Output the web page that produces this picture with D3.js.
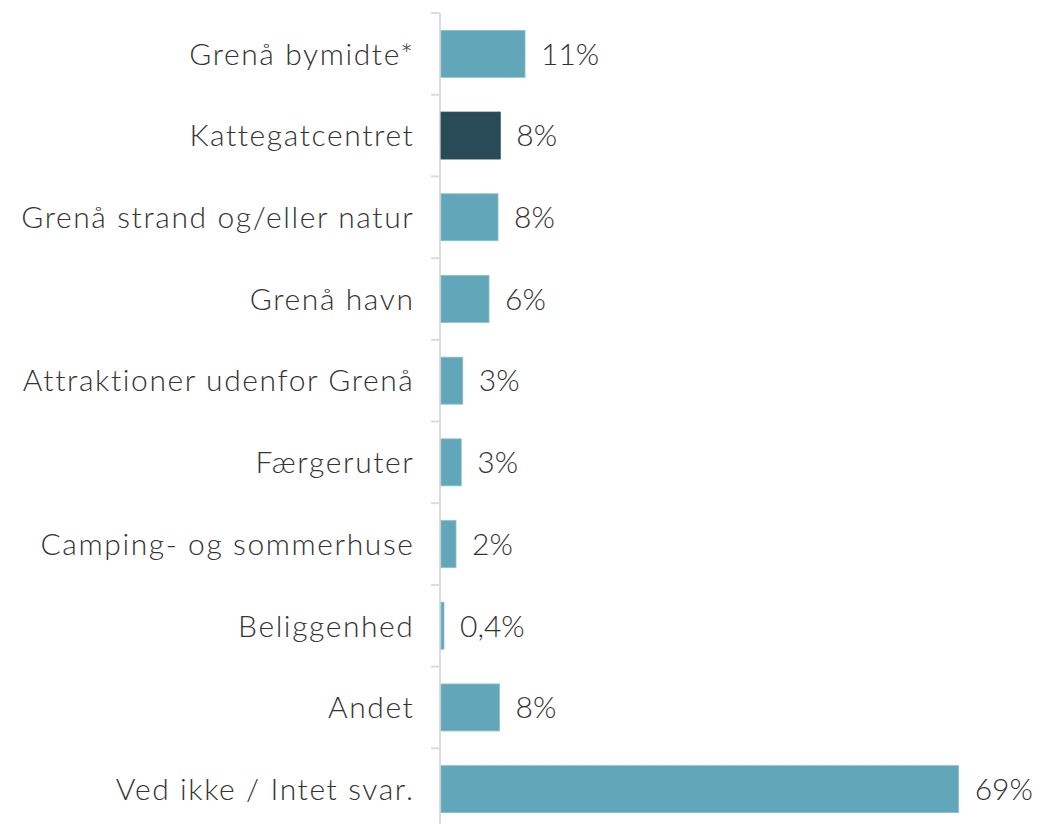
<!DOCTYPE html>
<html>
<head>
<meta charset="utf-8">
<script src="https://cdn.jsdelivr.net/npm/d3@7"></script>
<style>
  body { margin: 0; background: #fff; }
  text { font-family: Lato, 'Open Sans', sans-serif; font-weight: 300; fill: #333; }
</style>
</head>
<body>
<svg width="1040" height="824"></svg>
<script>
const categories = [
  'Grenå bymidte*',
  'Kattegatcentret',
  'Grenå strand og/eller natur',
  'Grenå havn',
  'Attraktioner udenfor Grenå',
  'Færgeruter',
  'Camping- og sommerhuse',
  'Beliggenhed',
  'Andet',
  'Ved ikke / Intet svar.'
];
const values = [11.2, 7.9, 7.6, 6.4, 2.9, 2.7, 2.0, 0.4, 7.8, 69];
const valueLabels = ['11%', '8%', '8%', '6%', '3%', '3%', '2%', '0,4%', '8%', '69%'];
const highlight = 'Kattegatcentret';

const svg = d3.select('svg'),
  marginLeft = 441,
  marginTop = 13;

const y = d3.scaleBand()
  .domain(categories)
  .range([marginTop, marginTop + 817])
  .paddingInner(0.425)
  .paddingOuter(0.2125);
const x = d3.scaleLinear().domain([0, 69]).range([marginLeft, marginLeft + 517.7]);

const data = categories.map((c, i) => ({ cat: c, value: values[i], label: valueLabels[i] }));

// axis line and ticks between bands
const g = svg.append('g');
g.append('line')
  .attr('x1', 440).attr('x2', 440)
  .attr('y1', marginTop).attr('y2', 830)
  .attr('stroke', '#dcdcdc').attr('stroke-width', 2);

const bounds = categories.map((c) => y(c) - (y.step() * y.paddingInner()) / 2);
g.selectAll('.tick')
  .data(bounds)
  .enter()
  .append('line')
  .attr('class', 'tick')
  .attr('x1', 431).attr('x2', 440)
  .attr('y1', (d) => d).attr('y2', (d) => d)
  .attr('stroke', '#dcdcdc').attr('stroke-width', 2);

g.selectAll('.bar')
  .data(data)
  .enter()
  .append('rect')
  .attr('class', 'bar')
  .attr('x', x(0))
  .attr('y', (d) => y(d.cat))
  .attr('width', (d) => Math.max(x(d.value) - x(0), 2.5))
  .attr('height', y.bandwidth())
  .attr('fill', (d) => (d.cat === highlight ? '#284b57' : '#62a6b9'))
  .attr('stroke', (d) => (d.cat === highlight ? '#284b57' : '#8cc0cd'))
  .attr('stroke-width', 0.8);

g.selectAll('.cat')
  .data(data)
  .enter()
  .append('text')
  .attr('class', 'cat')
  .attr('x', 414.5)
  .attr('y', (d) => y(d.cat) + y.bandwidth() / 2)
  .attr('dy', '0.36em')
  .attr('text-anchor', 'end')
  .attr('font-size', '30px')
  .attr('letter-spacing', '1.6px')
  .text((d) => d.cat);

g.selectAll('.val')
  .data(data)
  .enter()
  .append('text')
  .attr('class', 'val')
  .attr('x', (d) => Math.max(x(d.value), x(0) + 2.5) + 16)
  .attr('y', (d) => y(d.cat) + y.bandwidth() / 2)
  .attr('dy', '0.36em')
  .attr('font-size', '30px')
  .text((d) => d.label);
</script>
</body>
</html>
